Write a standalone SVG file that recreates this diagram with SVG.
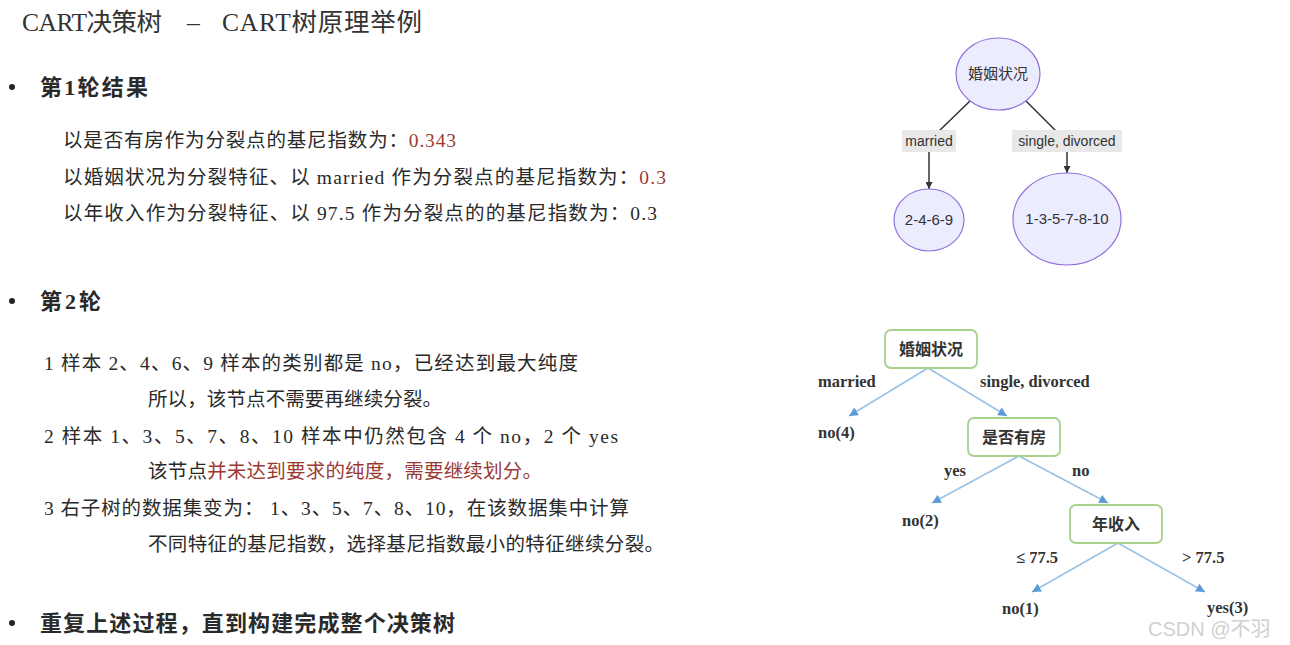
<svg xmlns="http://www.w3.org/2000/svg" width="1290" height="645" viewBox="0 0 1290 645">
<style>
.body{font-family:"Liberation Serif","Noto Sans CJK SC",serif;font-size:19.5px;fill:#2a2a2a}
.title{font-family:"Liberation Serif","Noto Sans CJK SC",serif;font-size:25.5px;fill:#333}
.head{font-family:"Liberation Serif","Noto Sans CJK SC",serif;font-size:22px;font-weight:bold;fill:#2a2a2a}
.red{fill:#9b3a32}
.mn{fill:#ececff;stroke:#9370db;stroke-width:1.2}
.mt{font-family:"Liberation Sans","Noto Sans CJK SC",sans-serif;font-size:15px;fill:#333;text-anchor:middle}
.ml{font-family:"Liberation Sans","Noto Sans CJK SC",sans-serif;font-size:14px;fill:#333;text-anchor:middle}
.me{fill:none;stroke:#333;stroke-width:1.5}
.lb{fill:#e8e8e8}
.bx{fill:#fff;stroke:#a9d18e;stroke-width:1.8}
.bt{font-family:"Noto Sans CJK SC",sans-serif;font-size:16px;font-weight:bold;fill:#333;text-anchor:middle}
.bl{font-family:"Liberation Serif","Noto Sans CJK SC",serif;font-size:16.5px;font-weight:bold;fill:#333}
.be{fill:none;stroke:#9dc3e6;stroke-width:1.8}
.wm{font-family:"Liberation Sans","Noto Sans CJK SC",sans-serif;font-size:20px;fill:#d0d0d0}
</style>
<defs>
<marker id="ah" viewBox="0 0 10 10" refX="10" refY="5" markerWidth="7" markerHeight="7" markerUnits="userSpaceOnUse" orient="auto"><path d="M0,0 L10,5 L0,10 z" fill="#333"/></marker>
<marker id="bh" viewBox="0 0 10 10" refX="10" refY="5" markerWidth="9" markerHeight="9" markerUnits="userSpaceOnUse" orient="auto"><path d="M0,0 L10,5 L0,10 z" fill="#5b9bd5"/></marker>
</defs>

<g id="text-left">
<text class="title" x="22" y="31" textLength="140" lengthAdjust="spacing">CART决策树</text>
<text class="title" x="187" y="31">–</text>
<text class="title" x="222" y="31" textLength="200" lengthAdjust="spacing">CART树原理举例</text>

<circle cx="12" cy="87" r="3" fill="#222"/>
<text class="head" x="40" y="95" textLength="108" lengthAdjust="spacing">第1轮结果</text>
<text class="body" x="63" y="147" textLength="393" lengthAdjust="spacing">以是否有房作为分裂点的基尼指数为：<tspan class="red">0.343</tspan></text>
<text class="body" x="63" y="184" textLength="603" lengthAdjust="spacing">以婚姻状况为分裂特征、以 married 作为分裂点的基尼指数为：<tspan class="red">0.3</tspan></text>
<text class="body" x="63" y="220" textLength="594" lengthAdjust="spacing">以年收入作为分裂特征、以 97.5 作为分裂点的的基尼指数为：0.3</text>

<circle cx="12" cy="301" r="3" fill="#222"/>
<text class="head" x="40" y="309" textLength="61" lengthAdjust="spacing">第2轮</text>
<text class="body" x="44" y="370" textLength="534" lengthAdjust="spacing">1 样本 2、4、6、9 样本的类别都是 no，已经达到最大纯度</text>
<text class="body" x="148" y="406" textLength="294" lengthAdjust="spacing">所以，该节点不需要再继续分裂。</text>
<text class="body" x="44" y="443" textLength="574" lengthAdjust="spacing">2 样本 1、3、5、7、8、10 样本中仍然包含 4 个 no，2 个 yes</text>
<text class="body" x="148" y="478" textLength="394" lengthAdjust="spacing">该节点<tspan class="red">并未达到要求的纯度，需要继续划分。</tspan></text>
<text class="body" x="44" y="515" textLength="585" lengthAdjust="spacing">3 右子树的数据集变为： 1、3、5、7、8、10，在该数据集中计算</text>
<text class="body" x="148" y="551" textLength="516" lengthAdjust="spacing">不同特征的基尼指数，选择基尼指数最小的特征继续分裂。</text>

<circle cx="12" cy="623" r="3" fill="#222"/>
<text class="head" x="40" y="631" textLength="415" lengthAdjust="spacing">重复上述过程，直到构建完成整个决策树</text>
</g>

<g id="connectors">
<path class="me" d="M970,101 L938,132 Q929,141 929,152 L929,189" marker-end="url(#ah)"/>
<path class="me" d="M1026,101 L1057,132 Q1067,141 1067,152 L1067,173" marker-end="url(#ah)"/>
<path class="be" d="M928,368 L849,416" marker-end="url(#bh)"/>
<path class="be" d="M928,368 L1007,416" marker-end="url(#bh)"/>
<path class="be" d="M1019,456 L932,503" marker-end="url(#bh)"/>
<path class="be" d="M1019,456 L1108,503" marker-end="url(#bh)"/>
<path class="be" d="M1118,543 L1032,592" marker-end="url(#bh)"/>
<path class="be" d="M1118,543 L1205,592" marker-end="url(#bh)"/>
</g>

<g id="edge-labels">
<rect class="lb" x="902" y="130" width="54" height="22"/>
<text class="ml" x="929" y="146">married</text>
<rect class="lb" x="1012" y="130" width="110" height="22"/>
<text class="ml" x="1067" y="146">single, divorced</text>
<text class="bl" x="818" y="387">married</text>
<text class="bl" x="980" y="387">single, divorced</text>
<text class="bl" x="944" y="476">yes</text>
<text class="bl" x="1072" y="476">no</text>
<text class="bl" x="1016" y="563">≤ 77.5</text>
<text class="bl" x="1182" y="563">&gt; 77.5</text>
</g>

<g id="m-root"><ellipse class="mn" cx="998" cy="74" rx="42" ry="36"/><text class="mt" x="998" y="79">婚姻状况</text></g>
<g id="m-left"><ellipse class="mn" cx="929" cy="220" rx="35" ry="31"/><text class="mt" x="929" y="225">2-4-6-9</text></g>
<g id="m-right"><ellipse class="mn" cx="1067" cy="219" rx="54" ry="46"/><text class="mt" x="1067" y="224">1-3-5-7-8-10</text></g>

<g id="b-root"><rect class="bx" x="885" y="330" width="92" height="38" rx="6"/><text class="bt" x="931" y="355">婚姻状况</text></g>
<g id="b-no4"><text class="bl" x="818" y="438">no(4)</text></g>
<g id="b-house"><rect class="bx" x="968" y="418" width="92" height="38" rx="6"/><text class="bt" x="1014" y="443">是否有房</text></g>
<g id="b-no2"><text class="bl" x="902" y="526">no(2)</text></g>
<g id="b-income"><rect class="bx" x="1070" y="505" width="92" height="38" rx="6"/><text class="bt" x="1116" y="530">年收入</text></g>
<g id="b-no1"><text class="bl" x="1002" y="614">no(1)</text></g>
<g id="b-yes3"><text class="bl" x="1207" y="613">yes(3)</text></g>

<text class="wm" x="1148" y="636">CSDN @不羽</text>
</svg>
